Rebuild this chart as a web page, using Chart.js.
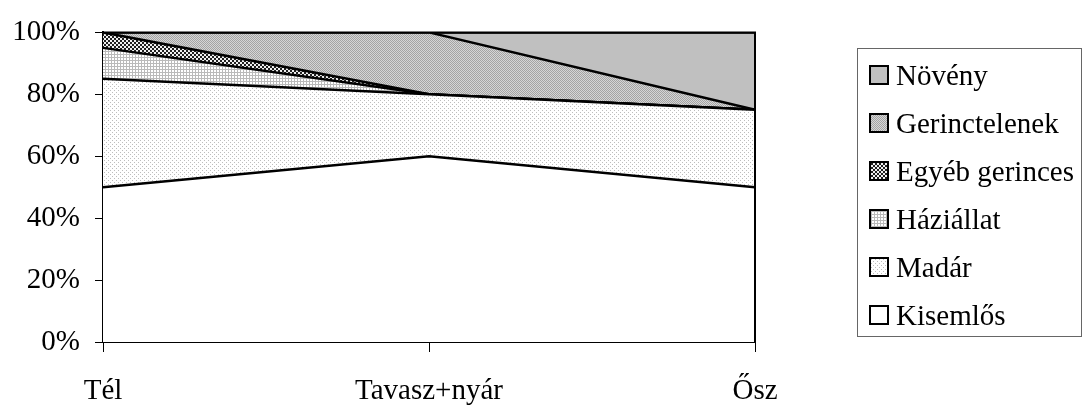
<!DOCTYPE html>
<html>
<head>
<meta charset="utf-8">
<script src="https://cdn.jsdelivr.net/npm/chart.js@4"></script>
<style>
  body { margin: 0; background: #fff; }
  #wrap { position: relative; width: 1084px; height: 405px; }
  #legend {
    position: absolute; left: 857px; top: 48px; width: 225px; height: 289px;
    border: 1.5px solid #666; box-sizing: border-box;
    font-family: "Liberation Serif", "Times New Roman", serif; font-size: 29px;
    padding-top: 2px;
  }
  .item { height: 48px; display: flex; align-items: center; padding-left: 11px; color: #000; }
  .item canvas { width: 20px; height: 20px; box-sizing: border-box; border: 2px solid #000; margin-right: 7px; }
</style>
</head>
<body>
<div id="wrap">
  <canvas id="myChart" width="1084" height="405"></canvas>
  <div id="legend"></div>
</div>
<script>
const seasons = ['Tél', 'Tavasz+nyár', 'Ősz'];
const kisemlos = [50, 60, 50];
const madar = [35, 20, 25];
const haziallat = [10, 0, 0];
const egyebGerinces = [5, 0, 0];
const gerinctelenek = [0, 20, 0];
const noveny = [0, 0, 25];
const yTicks = [0, 20, 40, 60, 80, 100];

// little tiles used as fill patterns
function makePattern(size, paint) {
    const c = document.createElement('canvas');
    c.width = size; c.height = size;
    const g = c.getContext('2d');
    paint(g);
    return g.createPattern(c, 'repeat');
}
function px(g, col, x, y, w, h) { g.fillStyle = col; g.fillRect(x, y, w || 1, h || 1); }

const fills = {
    white: '#ffffff',
    dots: makePattern(4, g => { px(g, '#fff', 0, 0, 4, 4); px(g, '#bdbdbd', 0, 0); px(g, '#bdbdbd', 2, 2); }),
    grid: makePattern(3, g => { px(g, '#fff', 0, 0, 3, 3); px(g, '#bababa', 0, 0, 3, 1); px(g, '#bababa', 0, 0, 1, 3); }),
    check: makePattern(4, g => { px(g, '#f0f0f0', 0, 0, 4, 4); px(g, '#202020', 0, 0, 2, 2); px(g, '#202020', 2, 2, 2, 2); }),
    fine: makePattern(2, g => { px(g, '#d6d6d6', 0, 0, 2, 2); px(g, '#a4a4a4', 0, 0); px(g, '#a4a4a4', 1, 1); }),
    solid: '#c0c0c0'
};

const series = [
    { label: 'Kisemlős', data: kisemlos, bg: fills.white },
    { label: 'Madár', data: madar, bg: fills.dots },
    { label: 'Háziállat', data: haziallat, bg: fills.grid },
    { label: 'Egyéb gerinces', data: egyebGerinces, bg: fills.check },
    { label: 'Gerinctelenek', data: gerinctelenek, bg: fills.fine },
    { label: 'Növény', data: noveny, bg: fills.solid }
];

const data = {
    labels: seasons,
    datasets: series.map((s, i) => ({
        label: s.label,
        data: s.data,
        backgroundColor: s.bg,
        borderColor: '#000',
        borderWidth: 2.5,
        pointRadius: 0,
        tension: 0,
        fill: i === 0 ? 'origin' : '-1'
    }))
};

// right and top edge of the plot box
const frame = {
    id: 'frame',
    afterDatasetsDraw(chart) {
        const a = chart.chartArea, c = chart.ctx;
        c.save();
        c.strokeStyle = '#000';
        c.lineWidth = 2;
        c.beginPath();
        c.moveTo(a.left, a.top);
        c.lineTo(a.right, a.top);
        c.lineTo(a.right, a.bottom);
        c.stroke();
        c.restore();
    }
};

const font = { family: "'Liberation Serif', 'Times New Roman', serif", size: 29 };

const config = {
    type: 'line',
    data: data,
    options: {
        responsive: false,
        animation: false,
        layout: { padding: { left: 0, right: 329, top: 26, bottom: 0 } },
        plugins: { legend: { display: false }, tooltip: { enabled: false } },
        scales: {
            x: {
                offset: false,
                grid: { drawOnChartArea: false, color: '#000', lineWidth: 1, tickLength: 10 },
                border: { color: '#000', width: 2 },
                ticks: { color: '#000', font: font, padding: 22, maxRotation: 0 },
                afterFit: s => { s.height = 63; }
            },
            y: {
                stacked: true,
                min: 0,
                max: 100,
                afterBuildTicks: s => { s.ticks = yTicks.map(v => ({ value: v })); },
                grid: { drawOnChartArea: false, color: '#000', lineWidth: 1, tickLength: 8 },
                border: { color: '#000', width: 2 },
                ticks: { color: '#000', font: font, padding: 15, callback: v => v + '%' },
                afterFit: s => { s.width = 103; }
            }
        }
    },
    plugins: [frame]
};

const myChart = new Chart(document.getElementById('myChart'), config);

// legend, top entry is the top layer
const legend = document.getElementById('legend');
series.slice().reverse().forEach(s => {
    const row = document.createElement('div');
    row.className = 'item';
    const sw = document.createElement('canvas');
    sw.width = 16; sw.height = 16;
    const g = sw.getContext('2d');
    g.fillStyle = s.bg;
    g.fillRect(0, 0, 16, 16);
    const txt = document.createElement('span');
    txt.textContent = s.label;
    row.appendChild(sw);
    row.appendChild(txt);
    legend.appendChild(row);
});
</script>
</body>
</html>
